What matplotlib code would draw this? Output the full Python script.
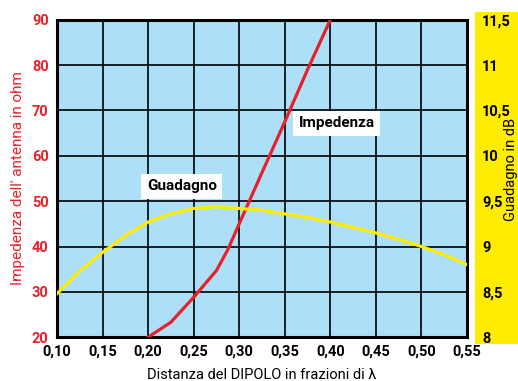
import matplotlib.pyplot as plt
from matplotlib.ticker import FuncFormatter

plt.rcParams['font.family'] = ['Roboto', 'DejaVu Sans']
plt.rcParams['font.weight'] = 'bold'

# impedenza (ohm) vs distanza
imp_x = [0.20, 0.225, 0.25, 0.275, 0.2875, 0.30, 0.325, 0.35, 0.375, 0.40]
imp_y = [20, 23.3, 28.8, 34.7, 39.3, 45, 56.3, 67.5, 79, 90]

# guadagno (dB) vs distanza
gain_x = [0.10, 0.125, 0.15, 0.175, 0.20, 0.225, 0.25, 0.275, 0.30, 0.325,
          0.35, 0.375, 0.40, 0.425, 0.45, 0.475, 0.50, 0.525, 0.55]
gain_y = [8.48, 8.73, 8.935, 9.12, 9.27, 9.36, 9.42, 9.44, 9.42, 9.40,
          9.36, 9.32, 9.27, 9.21, 9.15, 9.08, 9.0, 8.91, 8.80]

x_ticks = [0.10, 0.15, 0.20, 0.25, 0.30, 0.35, 0.40, 0.45, 0.50, 0.55]
left_ticks = [20, 30, 40, 50, 60, 70, 80, 90]
right_ticks = [8, 8.5, 9, 9.5, 10, 10.5, 11, 11.5]

red = '#e8202a'
yellow = '#ffec00'

fig = plt.figure(figsize=(5.18, 3.81), dpi=100)

# yellow box behind the right axis labels
bg = fig.add_axes([0.917, 0.097, 0.09, 0.872])
bg.set_facecolor(yellow)
bg.set_xticks([])
bg.set_yticks([])
for s in bg.spines.values():
    s.set_visible(False)

ax = fig.add_axes([0.110, 0.115, 0.7915, 0.833])
ax.set_facecolor('#ade0f8')
ax.set_xlim(0.10, 0.55)
ax.set_ylim(20, 90)
ax.set_xticks(x_ticks)
ax.set_yticks(left_ticks)
ax.grid(True, color='black', linewidth=1.2)
ax.set_axisbelow(True)
for s in ax.spines.values():
    s.set_linewidth(2.2)
ax.tick_params(length=0, labelsize=10.5, pad=5)
ax.tick_params(axis='y', labelcolor=red, pad=6)
ax.xaxis.set_major_formatter(FuncFormatter(lambda v, p: f'{v:.2f}'.replace('.', ',')))

ax.plot(imp_x, imp_y, color=red, linewidth=2.3, zorder=3)
ax.set_ylabel("Impedenza dell' antenna in ohm", color=red, fontsize=11,
              fontweight='normal', labelpad=5)
ax.set_xlabel('Distanza del DIPOLO in frazioni di λ', fontsize=10.5, labelpad=7)

ax2 = ax.twinx()
ax2.set_ylim(8, 11.5)
ax2.set_yticks(right_ticks)
ax2.yaxis.set_major_formatter(FuncFormatter(lambda v, p: f'{v:g}'.replace('.', ',')))
ax2.tick_params(length=0, labelsize=10.5, pad=11)
for s in ax2.spines.values():
    s.set_visible(False)
ax2.plot(gain_x, gain_y, color=yellow, linewidth=2.3, zorder=3)
ax2.set_ylabel('Guadagno in dB', fontsize=10.5)
ax2.yaxis.set_label_coords(1.09, 0.53)

ax.text(0.237, 53.3, 'Guadagno', fontsize=11, ha='center', va='center', zorder=4,
        bbox=dict(facecolor='white', edgecolor='none', pad=4))
ax.text(0.407, 67.2, 'Impedenza', fontsize=11, ha='center', va='center', zorder=4,
        bbox=dict(facecolor='white', edgecolor='none', pad=4))

fig.savefig('out.png', dpi=100)
